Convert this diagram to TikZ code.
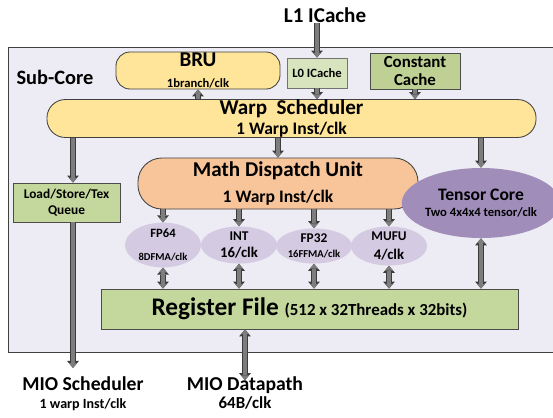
\documentclass[tikz,border=0pt]{standalone}
\usepackage{fontspec}
\setmainfont{Carlito}
\usetikzlibrary{positioning,shapes.geometric,arrows.meta}
\definecolor{subcoreBg}{RGB}{237,235,243}
\definecolor{schedYellow}{RGB}{255,229,153}
\definecolor{cacheGreen}{RGB}{216,228,190}
\definecolor{constGreen}{RGB}{190,208,148}
\definecolor{fileGreen}{RGB}{196,215,156}
\definecolor{dispPeach}{RGB}{248,197,155}
\definecolor{tensorPurple}{RGB}{160,141,186}
\definecolor{unitPurple}{RGB}{212,202,226}
\definecolor{busGray}{RGB}{125,125,125}
\definecolor{busDark}{RGB}{60,60,60}
\newcommand{\fsz}[1]{\fontsize{#1}{1.15\dimexpr#1pt\relax}\selectfont}
\tikzset {
    box yellow/.style={
        draw=black!75,
        fill=schedYellow,
        line width=0.6pt,
        rectangle, % rounded ends set per node
        inner sep=0pt,
        align=center,
    },
    box green/.style={
        draw=black!70,
        fill=fileGreen,
        line width=0.6pt,
        rectangle,
        inner sep=0pt,
        align=center,
    },
    unit/.style={
        ellipse,
        fill=unitPurple,
        inner sep=0pt,
        minimum width=1.9cm,
        minimum height=0.875cm,
        align=center,
    },
    bus/.style={
        draw=busGray,
        line width=2.4pt,
        -{Triangle[length=3.4pt,width=5.6pt,line width=0pt]},
        preaction={draw=busDark, line width=4pt, -{Triangle[length=5pt,width=8.4pt,line width=0pt]}},
    },
    bus both/.style={
        draw=busGray,
        line width=2.4pt,
        {Triangle[length=3.4pt,width=5.6pt,line width=0pt]}-{Triangle[length=3.4pt,width=5.6pt,line width=0pt]},
        preaction={draw=busDark, line width=4pt, {Triangle[length=5pt,width=8.4pt,line width=0pt]}-{Triangle[length=5pt,width=8.4pt,line width=0pt]}},
    },
}

\begin{document}
\begin{tikzpicture}[x=0.025cm, y=-0.025cm, font=\bfseries]
    \useasboundingbox (0,0) rectangle (553,417);
    \fill[subcoreBg] (8,47) rectangle (553,352);
    \draw[black!75, line width=0.6pt] (553,47) -- (8,47) -- (8,352) -- (553,352);
    \node[inner sep=0pt] (subcore) at (55,77) {\fsz{14.5}Sub-Core};
    \node[inner sep=0pt] (l1) at (325,15) {\fsz{15}L1 ICache};

    \node[box yellow, minimum width=4.1cm, minimum height=0.925cm, rounded corners=0.35cm] (bru) at (198,70.5)
        {\fsz{15}BRU\\[3pt]\fsz{9}1branch/clk};
    \node[box green, fill=cacheGreen, draw=black!55, minimum width=1.5cm, minimum height=0.75cm] (l0) at (317,73)
        {\fsz{9}L0 ICache};
    \node[box green, fill=constGreen, minimum width=2.25cm, minimum height=0.9cm, font=\bfseries\fsz{12}] (const) at (415,71)
        {Constant\\[-1pt]Cache};
    \node[box yellow, minimum width=12.225cm, minimum height=0.925cm, rounded corners=0.46cm] (warp) at (291.5,118.5)
        {\fsz{15}Warp\ \ Scheduler\\[2.5pt]\fsz{12.5}1 Warp Inst/clk};
    \node[box green, minimum width=2.675cm, minimum height=0.975cm, font=\bfseries\fsz{9.5}] (lsq) at (66.5,202.5)
        {Load/Store/Tex\\[0pt]Queue};
    \node[box yellow, fill=dispPeach, minimum width=7cm, minimum height=1.275cm, rounded corners=0.6cm] (mdu) at (278,183.5)
        {\fsz{15}Math Dispatch Unit\\[7pt]\fsz{12.5}1 Warp Inst/clk};
    \node[ellipse, fill=tensorPurple, inner sep=0pt, minimum width=3.15cm, minimum height=1.75cm, align=center] (tensor) at (481,203)
        {\fsz{12.5}Tensor Core\\[-1pt]\fsz{9}Two 4x4x4 tensor/clk};

    \node[unit] (fp64) at (163,245) {\fsz{9}FP64\\[4pt]\fsz{7.5}8DFMA/clk};
    \node[unit] (int) at (239,245) {\fsz{9.5}INT\\[0pt]\fsz{10.5}16/clk};
    \node[unit] (fp32) at (314,246) {\fsz{9.5}FP32\\[-1pt]\fsz{7.5}16FFMA/clk};
    \node[unit] (mufu) at (389,246) {\fsz{9.5}MUFU\\[1pt]\fsz{10.5}4/clk};

    \node[box green, minimum width=10.425cm, minimum height=1cm] (regfile) at (309.5,309)
        {\fsz{18}Register File \fsz{12}(512 x 32Threads x 32bits)};

    \node[anchor=north, inner sep=0pt, align=center] (mios) at (83,376)
        {\fsz{14}MIO Scheduler\\[1pt]\fsz{10}1 warp Inst/clk};
    \node[anchor=north, inner sep=0pt, align=center] (miod) at (245,376)
        {\fsz{14}MIO Datapath\\[1pt]\fsz{12}64B/clk};
    \coordinate (mioS) at (73,368);

    \draw[bus] (l1.south -| l0.north) -- (l0.north);
    \draw[bus] (l0.south) -- (l0.south |- warp.north);
    \draw[bus] (const.south) -- (const.south |- warp.north);
    \draw[bus] (bru.south |- warp.north) -- (bru.south);
    \draw[bus] (mioS |- warp.south) -- (mioS |- lsq.north);
    \draw[bus] (mioS |- lsq.south) -- (mioS);
    \draw[bus] (mdu.north |- warp.south) -- (mdu.north);
    \draw[bus] (tensor.north |- warp.south) -- (tensor.north);
    \foreach \u in {fp64,int,fp32,mufu} {
        \draw[bus] (\u.north |- mdu.south) -- (\u.north);
        \draw[bus both] (\u.south) -- (\u.south |- regfile.north);
    }
    \draw[bus both] (tensor.south) -- (tensor.south |- regfile.north);
    \draw[bus both] (miod.north |- regfile.south) -- ([yshift=-3pt]miod.north);
\end{tikzpicture}
\end{document}
